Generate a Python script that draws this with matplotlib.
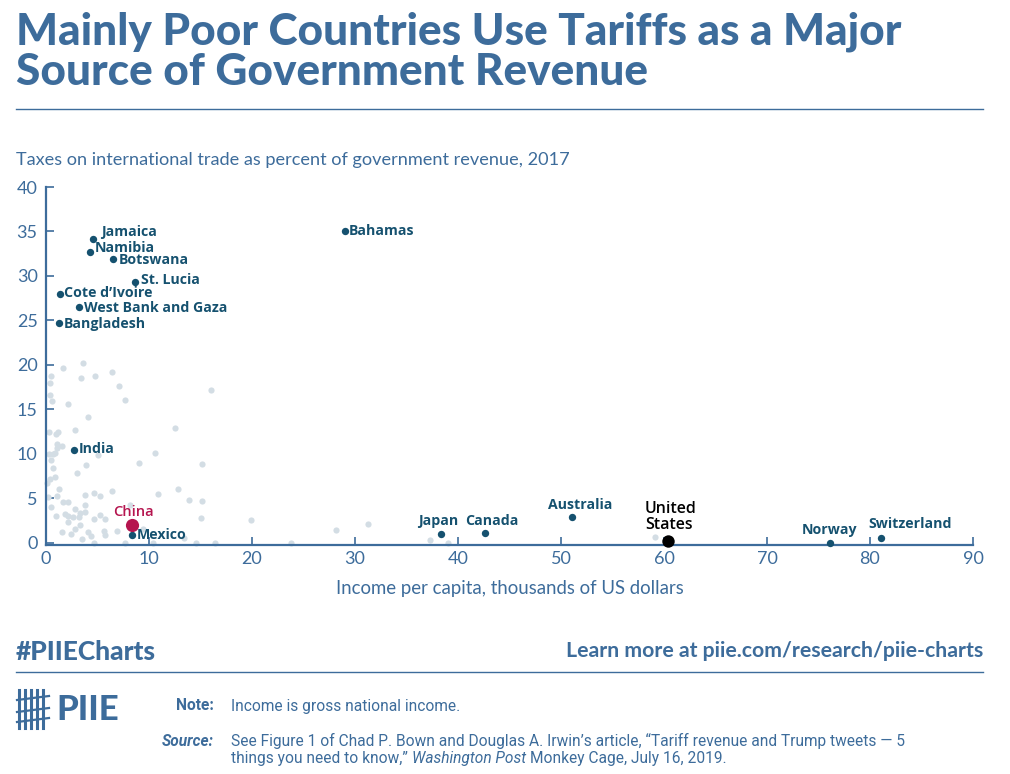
import matplotlib
matplotlib.use('Agg')
import matplotlib.pyplot as plt
from matplotlib.lines import Line2D

# ---- data ----
gray_x = [1.62, 3.56, 0.49, 0.39, 3.4, 4.76, 6.4, 7.1, 0.39, 0.58, 7.7, 2.17, 16.0, 4.1,
          0.32, 1.13, 0.94, 2.8, 12.5, 1.04, 1.52, 0.29, 0.87, 1.04, 5.08, 10.6, 0.49, 3.88,
          9.0, 15.1, 0.65, 0.9, 3.04, 0.39, 0.07, 1.23, 6.4, 12.8, 3.79, 4.69, 5.24, 10.9,
          0.16, 1.04, 13.9, 15.1, 0.49, 1.68, 2.14, 3.82, 8.19, 2.8, 0.94, 1.88, 2.1, 2.65,
          3.24, 3.3, 3.8, 4.69, 5.2, 5.7, 2.17, 3.3, 2.8, 1.52, 2.43, 4.1, 4.37, 3.47, 5.6,
          5.7, 6.86, 9.4, 13.4, 15.0, 4.69, 7.7, 10.4, 14.6, 16.4, 19.9, 23.8, 28.2, 31.3,
          37.3, 39.0, 59.1, 0.7]
gray_y = [19.7, 20.2, 18.7, 18.0, 18.5, 18.7, 19.2, 17.6, 16.6, 15.9, 16.1, 15.6, 17.2, 14.1,
          12.5, 12.5, 12.2, 12.7, 12.9, 11.1, 10.9, 10.0, 10.1, 10.6, 9.9, 10.1, 9.3, 8.75,
          9.0, 8.9, 8.45, 7.45, 7.8, 7.2, 6.7, 6.1, 5.85, 6.1, 5.4, 5.55, 5.3, 5.5,
          5.2, 5.25, 4.8, 4.65, 4.0, 4.6, 4.6, 4.2, 4.2, 3.8, 3.0, 3.25, 3.0, 2.9,
          2.9, 3.3, 3.5, 2.65, 3.1, 2.7, 2.3, 2.0, 1.6, 1.25, 0.97, 1.25, 0.75, 0.4, 1.35,
          0.93, 1.3, 1.5, 0.5, 2.8, 0.0, 0.0, 0.0, 0.0, 0.0, 2.6, 0.0, 1.4, 2.1,
          0.3, 0.0, 0.67, 10.0]

countries = ['Jamaica', 'Namibia', 'Botswana', 'St. Lucia', "Cote d\u2019Ivoire",
             'West Bank and Gaza', 'Bangladesh', 'Bahamas', 'India', 'Mexico',
             'Japan', 'Canada', 'Australia', 'Norway', 'Switzerland']
country_x = [4.6, 4.27, 6.5, 8.64, 1.36, 3.17, 1.23, 29.0, 2.69, 8.35,
             38.35, 42.6, 51.1, 76.1, 81.1]
country_y = [34.1, 32.7, 31.95, 29.35, 27.97, 26.5, 24.66, 35.08, 10.4, 0.9,
             1.04, 1.15, 2.94, 0.0, 0.53]

china_x, china_y = 8.35, 2.05
us_x, us_y = 60.4, 0.19

# label offsets in pixels (dx, dy, ha)
offsets = [(8, 7, 'left'), (5, 4, 'left'), (6, -1, 'left'), (6, 2, 'left'), (4, 1, 'left'),
           (5, -1, 'left'), (5, -1, 'left'), (4, 0, 'left'), (5, 1, 'left'), (5, 0, 'left'),
           (-3, 13, 'center'), (7, 12, 'center'), (8, 12, 'center'), (0, 13, 'center'),
           (-13, 14, 'left')]

blue = '#3d6c9b'
dark = '#15516f'
gray = '#d3dde4'
fy = lambda py: 1 - py / 774
fx = lambda px: px / 1010

fig = plt.figure(figsize=(10.1, 7.74), dpi=100)
ax = fig.add_axes([fx(46), fy(545), fx(973) - fx(46), fy(187) - fy(545)])

ax.scatter(gray_x, gray_y, s=20, color=gray, linewidths=0, clip_on=False, zorder=2)
ax.scatter(country_x, country_y, s=28, color=dark, linewidths=0, clip_on=False, zorder=3)
ax.scatter([china_x], [china_y], s=90, color='#b5154f', linewidths=0, clip_on=False, zorder=3)
ax.scatter([us_x], [us_y], s=80, color='black', linewidths=0, clip_on=False, zorder=4)

for name, x, y, (dx, dy, ha) in zip(countries, country_x, country_y, offsets):
    ax.annotate(name, (x, y), xytext=(dx, dy), textcoords='offset pixels', ha=ha, va='center',
                fontsize=10.2, fontweight='bold', color=dark, family='Open Sans')
ax.annotate('China', (china_x, china_y), xytext=(1, 13), textcoords='offset pixels',
            ha='center', va='center', fontsize=10.5, fontweight='semibold', color='#b5154f',
            family='Open Sans')
ax.annotate('United\nStates', (us_x, us_y), xytext=(-23, 24), textcoords='offset pixels',
            ha='left', va='center', fontsize=11.5, fontweight='semibold', color='black',
            family='Open Sans', linespacing=0.95)

ax.set_xlim(0, 90)
ax.set_ylim(-0.25, 40)
ax.set_xticks(range(0, 91, 10))
ax.set_yticks(range(0, 41, 5))
for s in ['top', 'right']:
    ax.spines[s].set_visible(False)
for s in ['left', 'bottom']:
    ax.spines[s].set_color(blue)
    ax.spines[s].set_linewidth(1.6)
ax.tick_params(direction='in', length=6, width=1.2, color=blue, labelcolor=blue, labelsize=13)
for lab in ax.get_xticklabels() + ax.get_yticklabels():
    lab.set_family('Lato')
ax.tick_params(axis='y', pad=6)
ax.tick_params(axis='x', pad=4)
ax.set_xlabel('Income per capita, thousands of US dollars', fontsize=13.4, color=blue,
              family='Lato', labelpad=10)

# titles and text
fig.text(fx(16), fy(12), 'Mainly Poor Countries Use Tariffs as a Major\nSource of Government Revenue',
         fontsize=31.8, fontweight='black', color=blue, family='Lato', va='top',
         linespacing=0.98)
fig.add_artist(Line2D([fx(16), fx(983)], [fy(109), fy(109)], color=blue, lw=1))
fig.text(fx(16), fy(160), 'Taxes on international trade as percent of government revenue, 2017',
         fontsize=13.1, color=blue, family='Lato', va='center')

fig.text(fx(16), fy(652), '#PIIECharts', fontsize=19, fontweight='black', color=blue,
         family='Lato', va='center')
fig.text(fx(983), fy(651), 'Learn more at piie.com/research/piie-charts', fontsize=15.3,
         fontweight='bold', color=blue, family='Lato', va='center', ha='right')
fig.add_artist(Line2D([fx(16), fx(983)], [fy(672), fy(672)], color=blue, lw=1))

fs = 11.2
fig.text(fx(214), fy(706), 'Note:', fontsize=fs, fontweight='bold', color=blue,
         family='Roboto', va='center', ha='right')
fig.text(fx(231), fy(706), 'Income is gross national income.', fontsize=fs, color=blue,
         family='Roboto', va='center')
fig.text(fx(214), fy(741), 'Source:', fontsize=fs, fontweight='bold', style='italic',
         color=blue, family='Roboto', va='center', ha='right')
fig.text(fx(231), fy(741), 'See Figure 1 of Chad P. Bown and Douglas A. Irwin\u2019s article, '
         '\u201cTariff revenue and Trump tweets \u2014 5', fontsize=fs, color=blue,
         family='Roboto', va='center')

# last source line built from pieces, placed by measured width
renderer = fig.canvas.get_renderer()
xpos = 231
for piece, st in [('things you need to know,\u201d', 'normal'), ('Washington Post', 'italic'),
                  ('Monkey Cage, July 16, 2019.', 'normal')]:
    t = fig.text(fx(xpos), fy(758), piece, fontsize=fs, color=blue, family='Roboto',
                 va='center', style=st)
    xpos += t.get_window_extent(renderer).width + 4

# logo
fig.text(fx(56), fy(710), 'PIIE', fontsize=25, fontweight='black', color=blue,
         family='Lato', va='center')
for px in [19, 25, 31, 37, 43]:
    fig.add_artist(Line2D([fx(px), fx(px)], [fy(728), fy(690)], color=blue, lw=2.2))
for py in [700, 712, 722]:
    fig.add_artist(Line2D([fx(17), fx(49)], [fy(py), fy(py - 4)], color=blue, lw=1.6))

fig.savefig('out.png', dpi=100)
